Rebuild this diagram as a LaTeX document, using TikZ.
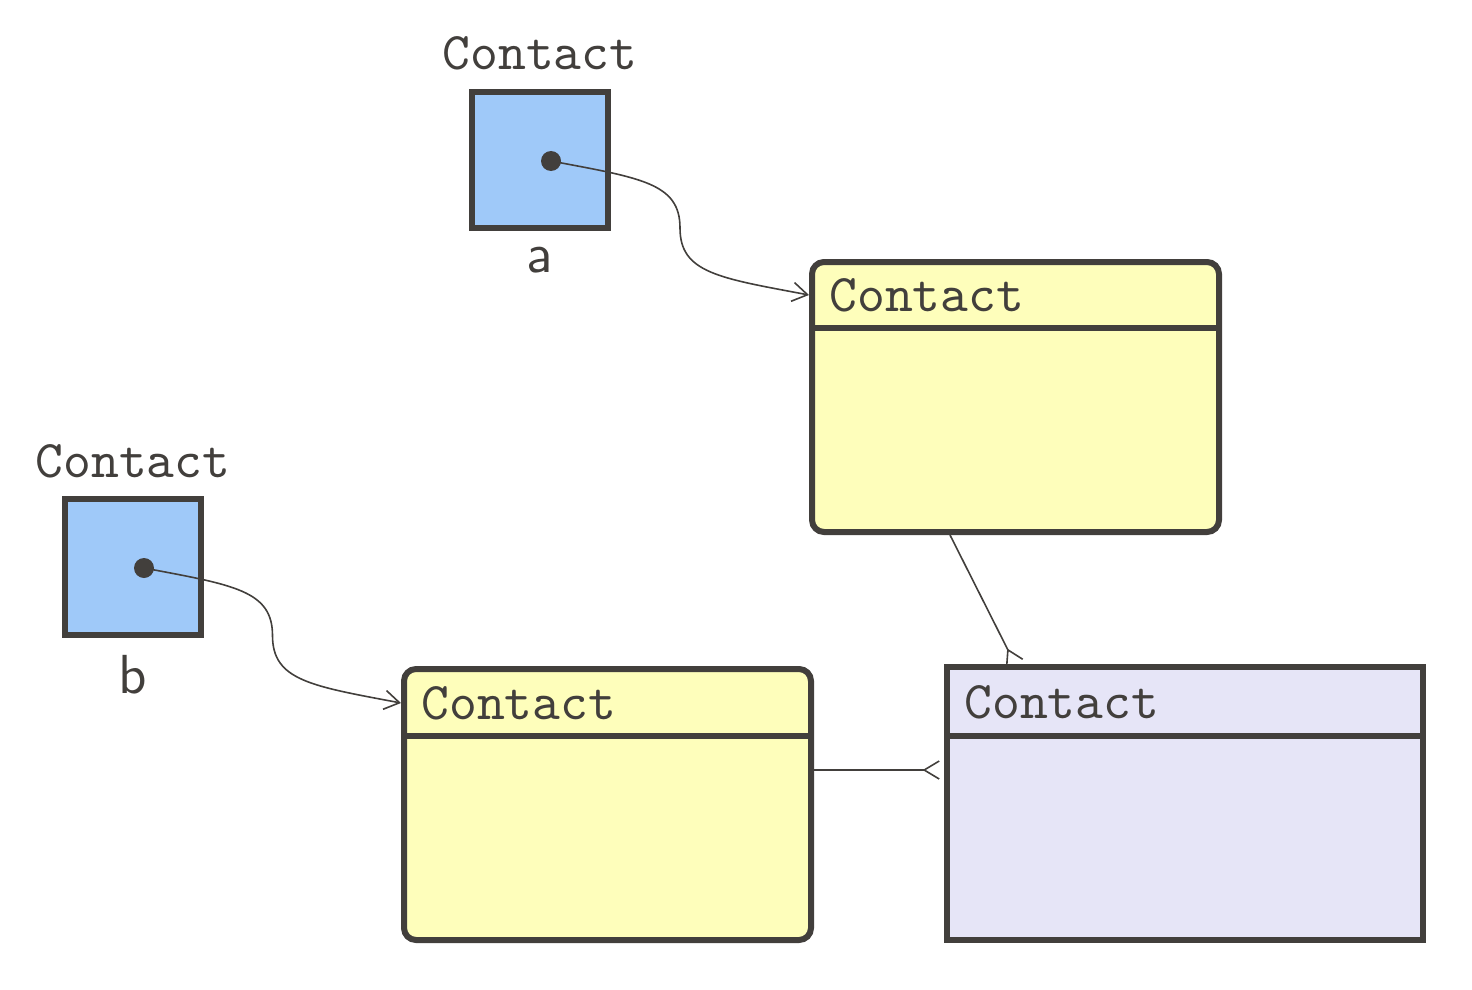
\documentclass[tikz,border=0pt]{standalone}
\usepackage{fontspec}
\usepackage{tikz}
\usetikzlibrary{positioning,calc,arrows.meta}
\newfontfamily\ttten{lmmono10-regular.otf}
\newfontfamily\sften{lmsans10-regular.otf}
\definecolor{ink}{HTML}{423F3C}
\definecolor{objblue}{HTML}{9FC9F9}
\definecolor{clsyellow}{HTML}{FEFEBB}
\definecolor{clslav}{HTML}{E6E5F7}
\tikzset{
	objbox/.style={draw=ink, fill=objblue, line width=3pt, minimum size=68pt, inner sep=0pt},
	clsbox/.style={draw=ink, line width=3pt, minimum width=203.5pt, minimum height=135pt, inner sep=0pt},
	tname/.style={inner sep=0pt, text=ink, font=\fontsize{26.5}{30}\ttten},
	vname/.style={inner sep=0pt, text=ink, font=\fontsize{27.5}{32}\sften},
	hdr/.style={draw=ink, line width=3pt},
	link/.style={draw=ink, line width=0.8pt},
	ref/.style={-{Straight Barb[length=7.5pt,width=9.5pt]}},
	many/.style={-{Straight Barb[reversed,length=7.5pt,width=9pt]}}
}
\begin{document}
\begin{tikzpicture}[x=0.5pt,y=-0.5pt]
	\useasboundingbox (0,0) rectangle (1472,990);
	% variables
	\node[objbox] (obja) at (540,160) {};
	\node[objbox] (objb) at (133,567) {};
	\node[tname, above=9.5pt of obja] (ta) {Contact};
	\node[tname, above=9pt of objb] (tb) {Contact};
	\node[vname, below=8pt of obja] (va) {a};
	\node[vname, below=8.5pt of objb] (vb) {b};
	% objects
	\node[clsbox, fill=clsyellow, rounded corners=6pt] (c1) at (1015.5,397) {};
	\node[clsbox, fill=clsyellow, rounded corners=6pt, minimum height=135.5pt] (c2) at (607.5,804.5) {};
	\node[clsbox, fill=clslav, minimum width=238pt, minimum height=136.5pt] (c3) at (1185,803.5) {};
	\draw[hdr] ($(c1.north west)+(0,69)$) -- ($(c1.north east)+(0,69)$);
	\draw[hdr] ($(c2.north west)+(0,70)$) -- ($(c2.north east)+(0,70)$);
	\draw[hdr] ($(c3.north west)+(0,72)$) -- ($(c3.north east)+(0,72)$);
	\node[tname, anchor=west] (n1) at ($(c1.north west)+(20,36)$) {Contact};
	\node[tname, anchor=west] (n2) at ($(c2.north west)+(20,37)$) {Contact};
	\node[tname, anchor=west] (n3) at ($(c3.north west)+(20,38)$) {Contact};
	% pointers
	\coordinate (da) at ($(obja.center)+(11,1)$);
	\coordinate (db) at ($(objb.center)+(11,1)$);
	\coordinate (c1in) at ($(c1.north west)+(0,36)$);
	\coordinate (c2in) at ($(c2.north west)+(0,37)$);
	\coordinate (ma) at ($(da)!0.5!(c1in)$);
	\coordinate (mb) at ($(db)!0.5!(c2in)$);
	\fill[ink] (da) circle (5pt);
	\fill[ink] (db) circle (5pt);
	\draw[link, ref] (da) .. controls +(90,17) and +(0,-45) .. (ma) .. controls +(0,45) and +(-90,-17) .. (c1in);
	\draw[link, ref] (db) .. controls +(90,17) and +(0,-45) .. (mb) .. controls +(0,45) and +(-90,-17) .. (c2in);
	% associations
	\coordinate (c1out) at ($(c1.south west)+(141,0)$);
	\coordinate (c3top) at ($(c3.north west)+(71,0)$);
	\coordinate (c3left) at ($(c3.north west)+(-4,106)$);
	\draw[link, many] (c1out) -- (c3top);
	\draw[link, many] (c2.east |- c3left) -- (c3left);
\end{tikzpicture}
\end{document}
